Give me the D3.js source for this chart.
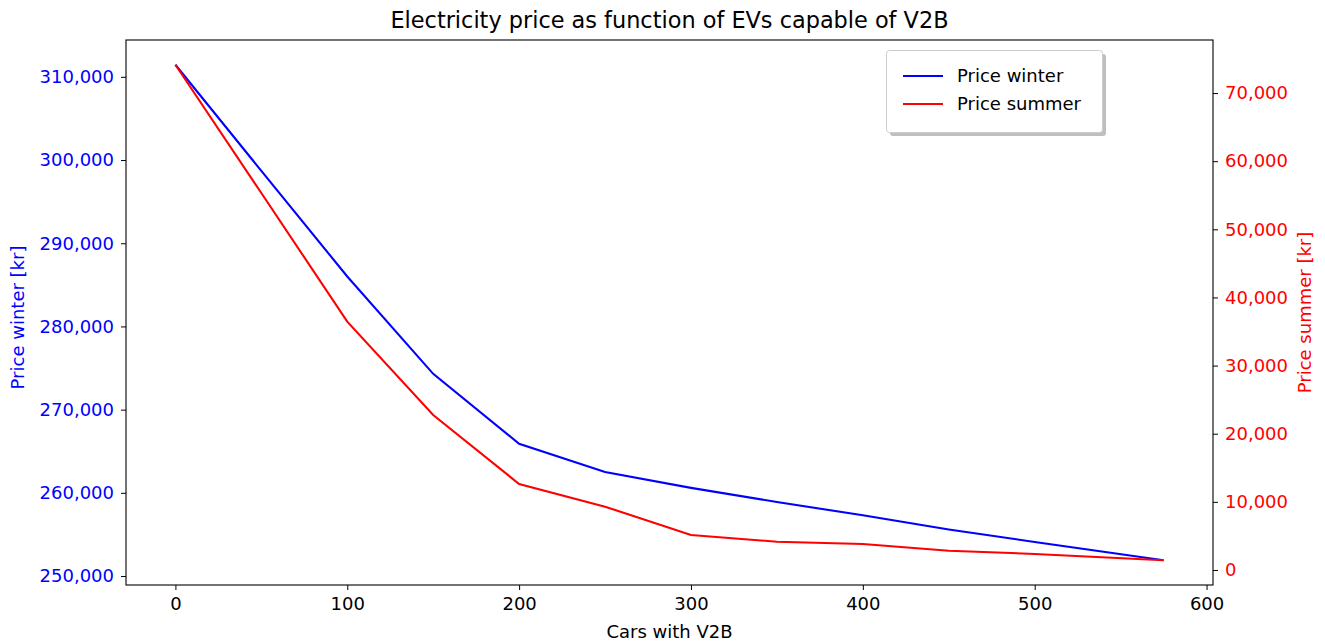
<!DOCTYPE html>
<html><head><meta charset="utf-8">
<script src="https://cdn.jsdelivr.net/npm/d3@7"></script>
<style>body{margin:0;background:#fff}svg{font-family:"DejaVu Sans",sans-serif}</style>
</head><body><svg id="c" width="1325" height="643"></svg>
<script>
const cars = [0, 50, 100, 150, 200, 250, 300, 350, 400, 450, 500, 575];
const priceWinter = [311450, 298700, 286000, 274300, 265900, 262500, 260600, 258900, 257300, 255600, 254100, 251900];
const priceSummer = [74150, 55330, 36440, 22750, 12620, 9290, 5140, 4150, 3820, 2830, 2350, 1430];
const xTicks = [0, 100, 200, 300, 400, 500, 600];
const winterTicks = [250000, 260000, 270000, 280000, 290000, 300000, 310000];
const summerTicks = [0, 10000, 20000, 30000, 40000, 50000, 60000, 70000];
const seriesNames = ["Price winter", "Price summer"];

const L = 126, R = 1213, T = 40, B = 585;
const FS = "18px";
const svg = d3.select("#c");
function pad(ext){const r=ext[1]-ext[0];return [ext[0]-0.05*r, ext[1]+0.05*r];}
const x = d3.scaleLinear().domain(pad(d3.extent(cars))).range([L, R]);
const yW = d3.scaleLinear().domain(pad(d3.extent(priceWinter))).range([B, T]);
const yS = d3.scaleLinear().domain(pad(d3.extent(priceSummer))).range([B, T]);
const fmt = d3.format(",");

function styleAxis(g, color){
  g.select(".domain").remove();
  g.selectAll(".tick line").attr("stroke","#000").attr("stroke-width",1);
  g.selectAll(".tick text").attr("fill", color).style("font-size",FS).style("font-family","DejaVu Sans");
}
const gx = svg.append("g").attr("transform",`translate(0,${B})`)
  .call(d3.axisBottom(x).tickValues(xTicks).tickSize(5).tickPadding(7).tickFormat(d3.format("d")));
styleAxis(gx, "#000");
const gl = svg.append("g").attr("transform",`translate(${L},0)`)
  .call(d3.axisLeft(yW).tickValues(winterTicks).tickSize(5).tickPadding(7).tickFormat(fmt));
styleAxis(gl, "#0000ff");
const gr = svg.append("g").attr("transform",`translate(${R},0)`)
  .call(d3.axisRight(yS).tickValues(summerTicks).tickSize(5).tickPadding(7).tickFormat(fmt));
styleAxis(gr, "#ff0000");

const lineW = d3.line().x((d,i)=>x(cars[i])).y(d=>yW(d));
const lineS = d3.line().x((d,i)=>x(cars[i])).y(d=>yS(d));
svg.append("path").attr("d", lineW(priceWinter)).attr("fill","none").attr("stroke","#0000ff").attr("stroke-width",2.1);
svg.append("path").attr("d", lineS(priceSummer)).attr("fill","none").attr("stroke","#ff0000").attr("stroke-width",2.1);

svg.append("rect").attr("x",L).attr("y",T).attr("width",R-L).attr("height",B-T)
  .attr("fill","none").attr("stroke","#000").attr("stroke-width",1.1);

svg.append("text").attr("x",(L+R)/2).attr("y",28).attr("text-anchor","middle")
  .style("font-size","22.4px").attr("fill","#000").text("Electricity price as function of EVs capable of V2B");
svg.append("text").attr("x",(L+R)/2).attr("y",638).attr("text-anchor","middle")
  .style("font-size",FS).attr("fill","#000").text("Cars with V2B");
svg.append("text").attr("transform",`translate(24,${(T+B)/2 + 5}) rotate(-90)`).attr("text-anchor","middle")
  .style("font-size",FS).attr("fill","#0000ff").text("Price winter [kr]");
svg.append("text").attr("transform",`translate(1311,${(T+B)/2}) rotate(-90)`).attr("text-anchor","middle")
  .style("font-size",FS).attr("fill","#ff0000").text("Price summer [kr]");

// legend
const lg = svg.append("g");
lg.append("rect").attr("x",890).attr("y",54).attr("width",216).attr("height",82).attr("rx",3)
  .attr("fill","#808080").attr("opacity",0.5);
lg.append("rect").attr("x",886.5).attr("y",50.5).attr("width",216).attr("height",82).attr("rx",3)
  .attr("fill","#fff").attr("stroke","#cccccc");
const colors = ["#0000ff","#ff0000"];
seriesNames.forEach((n,i)=>{
  const yy = 76 + i*28;
  lg.append("line").attr("x1",903).attr("x2",943).attr("y1",yy).attr("y2",yy).attr("stroke",colors[i]).attr("stroke-width",2.1);
  lg.append("text").attr("x",957).attr("y",yy+6).style("font-size",FS).attr("fill","#000").text(n);
});
</script></body></html>
